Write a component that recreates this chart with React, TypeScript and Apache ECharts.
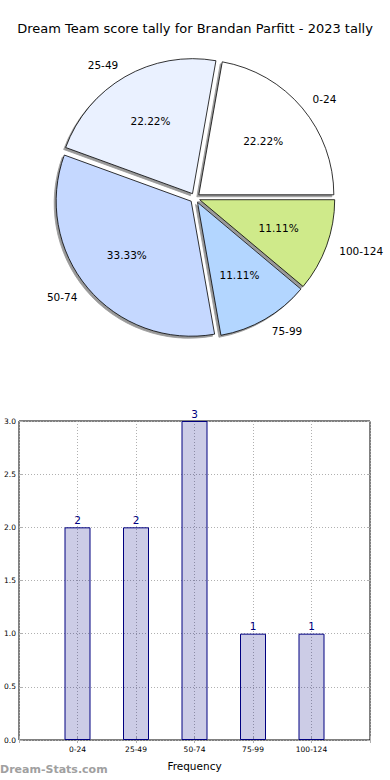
import React, { useEffect, useRef } from 'react';
import * as echarts from 'echarts';

const chartTitle = 'Dream Team score tally for Brandan Parfitt - 2023 tally';
const watermark = 'Dream-Stats.com';
const categories = ['0-24', '25-49', '50-74', '75-99', '100-124'];
const counts = [2, 2, 3, 1, 1];
const sliceColors = ['#ffffff', '#eaf1ff', '#c5d8ff', '#b3d6ff', '#cfea8a'];
const yMin = 0;
const yMax = 3;
const yStep = 0.5;
const xAxisName = 'Frequency';

const FONT = 'DejaVu Sans';

export default function App() {
  const ref = useRef<HTMLDivElement>(null);

  useEffect(() => {
    if (!ref.current) return;
    const chart = echarts.init(ref.current, undefined, { renderer: 'svg' });
    const total = counts.reduce((a, b) => a + b, 0);
    const axisCats = ['', ...categories, ' '];
    const pieData = categories.map((c, i) => ({
      name: c,
      value: counts[i],
      selected: true,
      itemStyle: { color: sliceColors[i] },
    }));
    const pctData = categories.map((c, i) => ({
      name: c,
      value: counts[i],
      selected: true,
    }));
    const tickStyle = { color: '#b0b0b0' };

    chart.setOption({
      animation: false,
      textStyle: { fontFamily: FONT },
      title: [
        {
          text: chartTitle,
          left: 'center',
          top: 22,
          padding: 0,
          textStyle: { fontSize: 13, fontWeight: 'normal', color: '#000', fontFamily: FONT },
        },
        {
          text: watermark,
          left: 0,
          top: 764,
          padding: 0,
          textStyle: { fontSize: 11, fontWeight: 'bold', color: '#a0a0a0', fontFamily: FONT },
        },
      ],
      grid: {
        left: 19,
        right: 20,
        top: 421,
        bottom: 40,
        show: true,
        borderColor: '#000',
        borderWidth: 1,
        backgroundColor: 'transparent',
      },
      xAxis: [
        {
          type: 'category',
          data: axisCats,
          boundaryGap: false,
          axisLine: { show: false },
          axisTick: { show: true, inside: true, length: 3, interval: 0, lineStyle: tickStyle },
          axisLabel: { fontSize: 7.5, color: '#000', margin: 5, interval: 0, fontFamily: FONT },
          splitLine: { show: true, interval: 0, lineStyle: { type: [1, 2], color: '#b0b0b0', width: 1 } },
          name: xAxisName,
          nameLocation: 'middle',
          nameGap: 20,
          nameTextStyle: { fontSize: 10.5, color: '#000', fontFamily: FONT },
        },
        {
          type: 'category',
          data: axisCats,
          boundaryGap: false,
          position: 'top',
          axisLine: { show: false },
          axisTick: { show: true, inside: true, length: 3, interval: 0, lineStyle: tickStyle },
          axisLabel: { show: false },
          splitLine: { show: false },
        },
      ],
      yAxis: [
        {
          type: 'value',
          min: yMin,
          max: yMax,
          interval: yStep,
          axisLine: { show: false },
          axisTick: { show: true, inside: true, length: 3, lineStyle: tickStyle },
          axisLabel: {
            fontSize: 7.5,
            color: '#000',
            margin: 3,
            fontFamily: FONT,
            formatter: (v: number) => v.toFixed(1),
          },
          splitLine: { show: true, lineStyle: { type: [1, 2], color: '#b0b0b0', width: 1 } },
        },
        {
          type: 'value',
          min: yMin,
          max: yMax,
          interval: yStep,
          position: 'right',
          axisLine: { show: false },
          axisTick: { show: true, inside: true, length: 3, lineStyle: tickStyle },
          axisLabel: { show: false },
          splitLine: { show: false },
        },
      ],
      series: [
        {
          type: 'pie',
          center: [195, 198],
          radius: 135,
          startAngle: 0,
          clockwise: false,
          selectedMode: 'multiple',
          selectedOffset: 5,
          avoidLabelOverlap: false,
          emphasis: { disabled: true },
          label: {
            show: true,
            position: 'outside',
            formatter: '{b}',
            fontSize: 10.5,
            color: '#000',
            fontFamily: FONT,
            distanceToLabelLine: 0,
          },
          labelLine: { show: false, length: 13.5, length2: 0 },
          itemStyle: {
            borderColor: '#000',
            borderWidth: 0.8,
            shadowColor: 'rgba(0,0,0,0.4)',
            shadowBlur: 0,
            shadowOffsetX: -2,
            shadowOffsetY: 2,
          },
          data: pieData,
          z: 2,
        },
        {
          type: 'pie',
          center: [195, 198],
          radius: 162,
          startAngle: 0,
          clockwise: false,
          selectedMode: 'multiple',
          selectedOffset: 5,
          silent: true,
          emphasis: { disabled: true },
          itemStyle: { color: 'rgba(0,0,0,0)', borderWidth: 0 },
          label: {
            show: true,
            position: 'inside',
            fontSize: 10.5,
            color: '#000',
            fontFamily: FONT,
            formatter: (p: any) => ((p.value / total) * 100).toFixed(2) + '%',
          },
          labelLine: { show: false },
          data: pctData,
          z: 3,
        },
        {
          type: 'bar',
          xAxisIndex: 0,
          yAxisIndex: 0,
          barWidth: 26,
          data: categories.map((c, i) => [c, counts[i]]),
          itemStyle: { color: 'rgba(0,0,128,0.2)', borderColor: '#000080', borderWidth: 1 },
          label: {
            show: true,
            position: 'top',
            distance: 2,
            color: '#000080',
            fontSize: 10.5,
            fontFamily: FONT,
          },
          emphasis: { disabled: true },
        },
      ],
    });

    return () => chart.dispose();
  }, []);

  return (
    <div
      ref={ref}
      style={{ position: 'fixed', left: 0, top: 0, width: 390, height: 780, background: '#fff' }}
    />
  );
}
